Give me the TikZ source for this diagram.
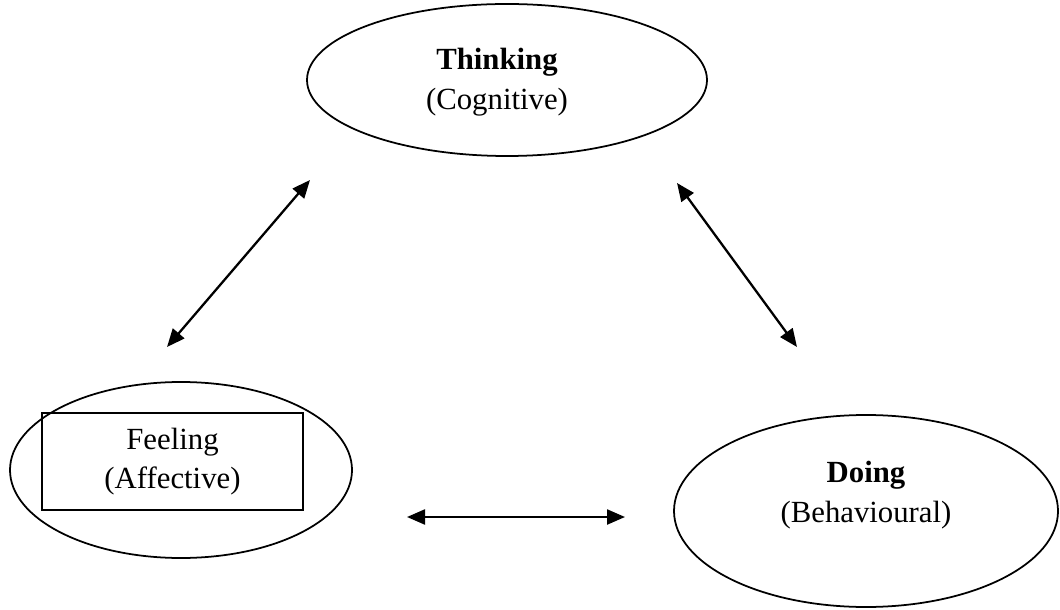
\documentclass[tikz,border=0pt]{standalone}
\usepackage{fontspec}
\setmainfont{Liberation Serif}
\usetikzlibrary{shapes.geometric,arrows.meta,positioning}

\begin{document}
\begin{tikzpicture}[
  oval/.style={draw, ellipse, line width=1pt, inner sep=0pt},
  lbl/.style={draw=none, align=center, font=\fontsize{17.5}{22.5}\selectfont},
  rel/.style={{Triangle[length=0.36cm,width=0.3cm]}-{Triangle[length=0.36cm,width=0.3cm]}, line width=1.3pt}
]
\useasboundingbox (0,0) rectangle (21.2,12.18);

% thinking
\node[oval, minimum width=8cm, minimum height=3.04cm] (TE) at (10.14,10.58) {};
\node[lbl] (TT) at (9.94,10.54) {\textbf{Thinking}\\(Cognitive)};

% feeling
\node[oval, minimum width=6.84cm, minimum height=3.52cm] (FE) at (3.62,2.78) {};
\node[lbl, draw, rectangle, line width=1pt, minimum width=5.22cm, minimum height=1.94cm] (FT) at (3.45,2.95) {Feeling\\(Affective)};

% doing
\node[oval, minimum width=7.68cm, minimum height=3.84cm] (DE) at (17.32,1.96) {};
\node[lbl] (DT) at (17.32,2.28) {\textbf{Doing}\\(Behavioural)};

% arrow ends
\coordinate (t1) at (6.2,8.58);
\coordinate (f1) at (3.34,5.24);
\coordinate (t2) at (13.54,8.52);
\coordinate (d2) at (15.94,5.24);
\coordinate (f3) at (8.14,1.84);
\coordinate (d3) at (12.5,1.84);

% links
\draw[rel] (t1) -- (f1);
\draw[rel] (t2) -- (d2);
\draw[rel] (f3) -- (d3);
\end{tikzpicture}
\end{document}
